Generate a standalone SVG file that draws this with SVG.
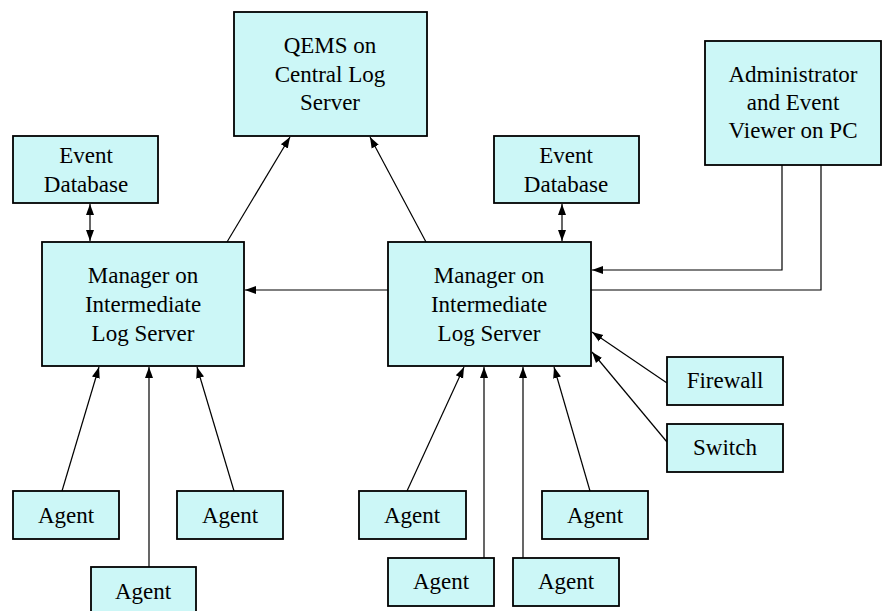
<svg xmlns="http://www.w3.org/2000/svg" width="886" height="611" viewBox="0 0 886 611">
<style>
.box{fill:#CCF7F7;stroke:#000;stroke-width:1.8}
.t{font-family:"Liberation Serif","Times New Roman",serif;font-size:23px;fill:#000;text-anchor:middle}
.c{fill:none;stroke:#000;stroke-width:1.2}
</style>
<defs>
<marker id="ah" markerUnits="userSpaceOnUse" markerWidth="11" markerHeight="11" viewBox="0 0 11 11" refX="11" refY="5.5" orient="auto-start-reverse">
<path d="M0,1.5 L11,5.5 L0,9.5 Z" fill="#000"/>
</marker>
</defs>
<rect width="886" height="611" fill="#fff"/>
<g id="connectors">
<line class="c" x1="90" y1="204" x2="90" y2="241" marker-start="url(#ah)" marker-end="url(#ah)"/>
<line class="c" x1="562" y1="204" x2="562" y2="241" marker-start="url(#ah)" marker-end="url(#ah)"/>
<line class="c" x1="227" y1="242" x2="290" y2="137" marker-end="url(#ah)"/>
<line class="c" x1="426" y1="242" x2="370" y2="137" marker-end="url(#ah)"/>
<polyline class="c" points="782,165 782,270 592,270" marker-end="url(#ah)"/>
<polyline class="c" points="821,165 821,290 245,290" marker-end="url(#ah)"/>
<line class="c" x1="62" y1="491" x2="99" y2="367" marker-end="url(#ah)"/>
<line class="c" x1="149" y1="567" x2="149" y2="367" marker-end="url(#ah)"/>
<line class="c" x1="234" y1="491" x2="197" y2="367" marker-end="url(#ah)"/>
<line class="c" x1="407" y1="491" x2="464" y2="367" marker-end="url(#ah)"/>
<line class="c" x1="484" y1="558" x2="484" y2="367" marker-end="url(#ah)"/>
<line class="c" x1="523" y1="558" x2="523" y2="367" marker-end="url(#ah)"/>
<line class="c" x1="590" y1="491" x2="554" y2="367" marker-end="url(#ah)"/>
<line class="c" x1="667" y1="383" x2="592" y2="332" marker-end="url(#ah)"/>
<line class="c" x1="667" y1="442" x2="592" y2="352" marker-end="url(#ah)"/>
</g>
<g id="qems">
<rect class="box" x="234" y="12" width="193" height="124"/>
<text class="t" x="330" y="53">QEMS on</text>
<text class="t" x="330" y="82">Central Log</text>
<text class="t" x="330" y="110">Server</text>
</g>
<g id="admin">
<rect class="box" x="705" y="41" width="176" height="124"/>
<text class="t" x="793" y="82">Administrator</text>
<text class="t" x="793" y="110">and Event</text>
<text class="t" x="793" y="138">Viewer on PC</text>
</g>
<g id="db-left">
<rect class="box" x="13" y="136" width="145" height="67"/>
<text class="t" x="86" y="163">Event</text>
<text class="t" x="86" y="192">Database</text>
</g>
<g id="db-right">
<rect class="box" x="494" y="136" width="145" height="67"/>
<text class="t" x="566" y="163">Event</text>
<text class="t" x="566" y="192">Database</text>
</g>
<g id="mgr-left">
<rect class="box" x="42" y="242" width="202" height="124"/>
<text class="t" x="143" y="283">Manager on</text>
<text class="t" x="143" y="312">Intermediate</text>
<text class="t" x="143" y="341">Log Server</text>
</g>
<g id="mgr-right">
<rect class="box" x="388" y="242" width="203" height="124"/>
<text class="t" x="489" y="283">Manager on</text>
<text class="t" x="489" y="312">Intermediate</text>
<text class="t" x="489" y="341">Log Server</text>
</g>
<g id="agent-l1">
<rect class="box" x="13" y="491" width="106" height="48"/>
<text class="t" x="66" y="523">Agent</text>
</g>
<g id="agent-l2">
<rect class="box" x="177" y="491" width="106" height="48"/>
<text class="t" x="230" y="523">Agent</text>
</g>
<g id="agent-l3">
<rect class="box" x="91" y="567" width="105" height="50"/>
<text class="t" x="143" y="599">Agent</text>
</g>
<g id="agent-r1">
<rect class="box" x="359" y="491" width="107" height="48"/>
<text class="t" x="412" y="523">Agent</text>
</g>
<g id="agent-r2">
<rect class="box" x="388" y="558" width="106" height="48"/>
<text class="t" x="441" y="589">Agent</text>
</g>
<g id="agent-r3">
<rect class="box" x="513" y="558" width="106" height="48"/>
<text class="t" x="566" y="589">Agent</text>
</g>
<g id="agent-r4">
<rect class="box" x="542" y="491" width="106" height="48"/>
<text class="t" x="595" y="523">Agent</text>
</g>
<g id="firewall">
<rect class="box" x="667" y="357" width="116" height="48"/>
<text class="t" x="725" y="388">Firewall</text>
</g>
<g id="switch">
<rect class="box" x="667" y="424" width="116" height="48"/>
<text class="t" x="725" y="455">Switch</text>
</g>
</svg>
